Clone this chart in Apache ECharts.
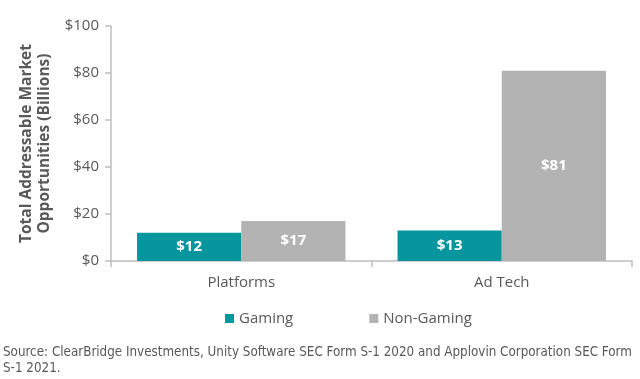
<!DOCTYPE html>
<html><head><meta charset="utf-8">
<script src="https://cdn.jsdelivr.net/npm/echarts@6/dist/echarts.min.js"></script>
<style>html,body{margin:0;padding:0;background:#fff}#c{width:640px;height:379px}</style>
</head><body><div id="c"></div>
<script>
const categories = ['Platforms', 'Ad Tech'];
const gaming = [12, 13];
const nonGaming = [17, 81];
const seriesNames = ['Gaming', 'Non-Gaming'];
const yTicks = [0, 20, 40, 60, 80, 100];

const chart = echarts.init(document.getElementById('c'));
const lbl = {
  show: true, position: 'inside', color: '#fff', fontWeight: 'bold',
  fontFamily: 'Open Sans', fontSize: 15, formatter: p => '$' + p.value
};
chart.setOption({
  animation: false,
  grid: { left: 111, right: 8, top: 26, bottom: 118 },
  legend: {
    data: seriesNames, bottom: 48, left: 220, itemWidth: 9, itemHeight: 9, itemGap: 76,
    icon: 'rect',
    textStyle: { color: '#595959', fontSize: 15, fontFamily: 'Open Sans' }
  },
  xAxis: {
    type: 'category', data: categories,
    axisLine: { lineStyle: { color: '#BFBFBF', width: 1.5 } },
    axisTick: { show: true, length: 6, lineStyle: { color: '#BFBFBF', width: 1.5 } },
    axisLabel: { color: '#595959', fontSize: 15, fontFamily: 'Open Sans', margin: 14 }
  },
  yAxis: {
    type: 'value', min: yTicks[0], max: yTicks[yTicks.length - 1], interval: 20,
    name: 'Total Addressable Market\nOpportunities (Billions)',
    nameLocation: 'middle', nameGap: 56, nameRotate: 90,
    nameTextStyle: { color: '#595959', fontSize: 15.5, fontWeight: 'bold', fontFamily: 'Open Sans', lineHeight: 18 },
    splitLine: { show: false },
    axisLine: { show: true, lineStyle: { color: '#BFBFBF', width: 1.5 } },
    axisTick: { show: true, length: 6, lineStyle: { color: '#BFBFBF', width: 1.5 } },
    axisLabel: { color: '#595959', fontSize: 15, fontFamily: 'Open Sans', margin: 12, formatter: v => '$' + v }
  },
  series: [
    { name: seriesNames[0], type: 'bar', data: gaming, barGap: '0%', barCategoryGap: '20%',
      itemStyle: { color: '#07969E' }, label: lbl },
    { name: seriesNames[1], type: 'bar', data: nonGaming,
      itemStyle: { color: '#B3B3B3' }, label: lbl }
  ],
  graphic: [{
    type: 'text', left: 3, top: 345,
    style: {
      text: 'Source: ClearBridge Investments, Unity Software SEC Form S-1 2020 and Applovin Corporation SEC Form\nS-1 2021.',
      fill: '#595959', font: '13.3px "DejaVu Sans Condensed"', lineHeight: 16
    }
  }]
});
</script></body></html>
